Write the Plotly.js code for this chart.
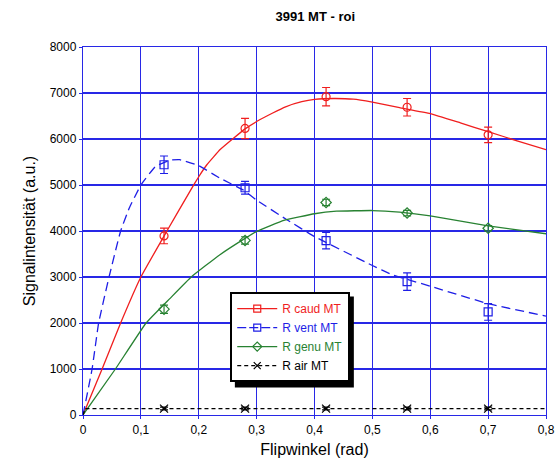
<!DOCTYPE html>
<html><head><meta charset="utf-8">
<script src="https://cdn.plot.ly/plotly-3.0.1.min.js"></script>
<style>html,body{margin:0;padding:0;background:#fff}#chart{width:558px;height:466px}</style>
</head><body><div id="chart"></div>
<script>
// measured data points (flip angle in rad)
const flipAngles = [0.14, 0.28, 0.42, 0.56, 0.70];
const caudValues = [3893, 6230, 6920, 6690, 6090];
const caudErr    = [170, 220, 200, 190, 170];
const ventValues = [5440, 4940, 3790, 2900, 2240];
const ventErr    = [190, 140, 180, 190, 180];
const genuValues = [2300, 3795, 4620, 4390, 4060];
const genuErr    = [90, 80, 70, 60, 60];
const airValues  = [140, 140, 140, 140, 140];
const airErr     = [30, 30, 30, 30, 30];

// fitted curves
const caudFitX = [0, 0.033, 0.065, 0.1, 0.145, 0.186, 0.2, 0.214, 0.237, 0.26, 0.28, 0.3, 0.327, 0.35, 0.378, 0.4, 0.433, 0.467, 0.5, 0.547, 0.6, 0.652, 0.7, 0.75, 0.8];
const caudFitY = [0, 1000, 2000, 3000, 4000, 4890, 5180, 5440, 5770, 6015, 6220, 6380, 6560, 6700, 6810, 6860, 6880, 6865, 6800, 6680, 6550, 6350, 6160, 5960, 5770];
const ventFitX = [0, 0.0157, 0.027, 0.045, 0.065, 0.08, 0.1, 0.125, 0.15, 0.167, 0.2, 0.237, 0.277, 0.3, 0.353, 0.4, 0.5, 0.534, 0.6, 0.7, 0.8];
const ventFitY = [0, 1000, 2000, 3000, 4000, 4500, 5000, 5400, 5540, 5550, 5420, 5146, 4890, 4670, 4240, 3880, 3250, 3050, 2800, 2420, 2150];
const genuFitX = [0, 0.056, 0.109, 0.15, 0.187, 0.236, 0.28, 0.3, 0.347, 0.4, 0.438, 0.5, 0.547, 0.6, 0.7, 0.8];
const genuFitY = [0, 1000, 2000, 2530, 3000, 3480, 3840, 3990, 4230, 4375, 4430, 4445, 4410, 4330, 4110, 3940];
const airFitX  = [0, 0.004, 0.8];
const airFitY  = [0, 140, 140];

const xTickVals = [0, 0.1, 0.2, 0.3, 0.4, 0.5, 0.6, 0.7, 0.8];
const xTickText = ['0', '0,1', '0,2', '0,3', '0,4', '0,5', '0,6', '0,7', '0,8'];
const yTickVals = [0, 1000, 2000, 3000, 4000, 5000, 6000, 7000, 8000];

const seriesNames = ['R caud MT', 'R vent MT', 'R genu MT', 'R air MT'];

const RED = 'rgb(240,30,30)', BLUE = 'rgb(30,30,230)', GREEN = 'rgb(40,130,50)', BLACK = 'rgb(0,0,0)';

function pts(y, err, color, symbol) {
  return {x: flipAngles, y: y, type: 'scatter', mode: 'markers', showlegend: false,
    marker: {symbol: symbol, size: 8, color: color, line: {color: color, width: 1.2}},
    error_y: {type: 'data', array: err, visible: true, color: color, thickness: 1.2, width: 4},
    cliponaxis: false};
}
function fit(x, y, color, dash, shape) {
  return {x: x, y: y, type: 'scatter', mode: 'lines', showlegend: false,
    line: {color: color, width: 1.3, dash: dash, shape: shape, smoothing: 0.3}};
}
function leg(name, color, symbol, dash) {
  return {x: [null], y: [null], type: 'scatter', mode: 'lines+markers',
    name: '<span style="color:' + color + '">' + name + '</span>',
    line: {color: color, width: 1.3, dash: dash},
    marker: {symbol: symbol, size: 7, color: color, line: {color: color, width: 1.2}}};
}

const traces = [
  fit(caudFitX, caudFitY, RED, 'solid', 'spline'),
  fit(ventFitX, ventFitY, BLUE, '9px,5px', 'spline'),
  fit(genuFitX, genuFitY, GREEN, 'solid', 'spline'),
  fit(airFitX, airFitY, BLACK, '4px,3px', 'linear'),
  pts(caudValues, caudErr, RED, 'circle-open'),
  pts(ventValues, ventErr, BLUE, 'square-open'),
  pts(genuValues, genuErr, GREEN, 'diamond-open'),
  pts(airValues, airErr, BLACK, 'x-thin-open'),
  leg(seriesNames[0], RED, 'square-open', 'solid'),
  leg(seriesNames[1], BLUE, 'square-open', '9px,3px'),
  leg(seriesNames[2], GREEN, 'diamond-open', 'solid'),
  leg(seriesNames[3], BLACK, 'x-thin-open', '4px,3px')
];

const GRID = 'rgb(40,40,230)';
const layout = {
  width: 558, height: 466,
  margin: {l: 83, r: 12, t: 47, b: 51},
  paper_bgcolor: '#fff', plot_bgcolor: '#fff',
  font: {family: 'Liberation Sans, Arial, sans-serif', size: 12, color: '#000'},
  title: {text: '<b>3991 MT - roi</b>', x: 0.565, xanchor: 'center', y: 0.965, yanchor: 'middle',
    font: {size: 13, color: '#000'}},
  xaxis: {range: [0, 0.8], tickvals: xTickVals, ticktext: xTickText, showgrid: true,
    gridcolor: GRID, gridwidth: 1.2, showline: true, linecolor: GRID, linewidth: 1.2, mirror: true,
    zeroline: false, ticks: 'outside', ticklen: 3, tickcolor: GRID,
    title: {text: 'Flipwinkel (rad)', font: {size: 16}, standoff: 8}},
  yaxis: {range: [0, 8000], tickvals: yTickVals, showgrid: true,
    gridcolor: GRID, gridwidth: 1.2, showline: true, linecolor: GRID, linewidth: 1.2, mirror: true,
    zeroline: false, ticks: 'outside', ticklen: 3, tickcolor: GRID,
    title: {text: 'Signalintensität (a.u.)', font: {size: 16}, standoff: 10}},
  legend: {x: 0.318, y: 0.334, xanchor: 'left', yanchor: 'top', bgcolor: '#fff',
    bordercolor: '#000', borderwidth: 2, font: {size: 12}, tracegroupgap: 0,
    itemwidth: 40},
  shapes: [{type: 'rect', xref: 'paper', yref: 'paper', layer: 'above',
    x0: 0.328, x1: 0.585, y0: 0.075, y1: 0.322, fillcolor: '#000', line: {width: 0}}]
};

Plotly.newPlot('chart', traces, layout, {displayModeBar: false, staticPlot: true});
</script></body></html>
